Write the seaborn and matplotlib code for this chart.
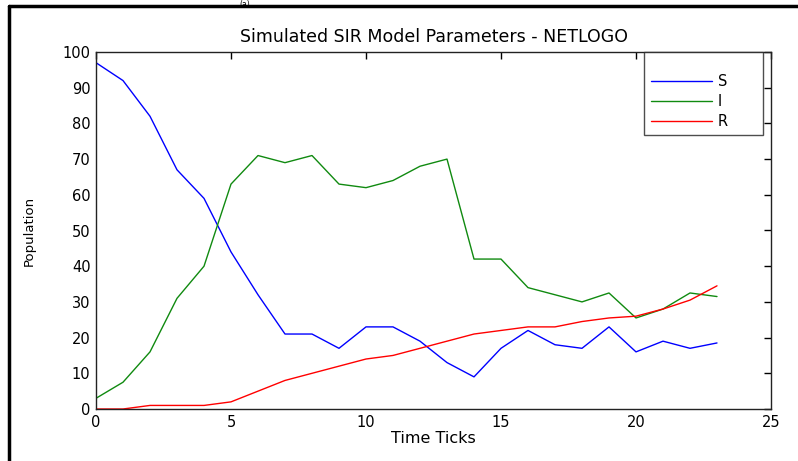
import pandas as pd
import seaborn as sns
import matplotlib.pyplot as plt
from matplotlib.lines import Line2D

# valores
ticks = list(range(24))
s_vals = [97, 92, 82, 67, 59, 44, 32, 21, 21, 17, 23, 23, 19, 13, 9, 17, 22, 18, 17, 23, 16, 19, 17, 18.5]
i_vals = [3, 7.5, 16, 31, 40, 63, 71, 69, 71, 63, 62, 64, 68, 70, 42, 42, 34, 32, 30, 32.5, 25.5, 28, 32.5, 31.5]
r_vals = [0, 0, 1, 1, 1, 2, 5, 8, 10, 12, 14, 15, 17, 19, 21, 22, 23, 23, 24.5, 25.5, 26, 28, 30.5, 34.5]
series = ['S', 'I', 'R']
cores = {'S': '#0000ff', 'I': '#108a10', 'R': '#ff0000'}

df = pd.DataFrame({
    'tick': ticks * 3,
    'valor': s_vals + i_vals + r_vals,
    'serie': ['S'] * 24 + ['I'] * 24 + ['R'] * 24,
})

sns.set_style('white')
plt.rcParams['font.family'] = ['DejaVu Sans']
plt.rcParams['text.color'] = 'black'
plt.rcParams['axes.labelcolor'] = 'black'

fig = plt.figure(figsize=(7.98, 4.61), dpi=100)
ax = fig.add_axes([96 / 798, (461 - 409) / 461, 675 / 798, 357 / 461])

sns.lineplot(data=df, x='tick', y='valor', hue='serie', hue_order=series,
             palette=cores, linewidth=1.0, ax=ax)

ax.set_xlim(0, 25)
ax.set_ylim(0, 100)
ax.set_xticks(range(0, 26, 5))
ax.set_yticks(range(0, 101, 10))
ax.tick_params(direction='in', length=5, width=1, top=True, right=True,
               labelsize=10.5, colors='black', pad=4)
for sp in ax.spines.values():
    sp.set_color('#222222')
    sp.set_linewidth(1.0)

ax.set_title('Simulated SIR Model Parameters - NETLOGO', fontsize=12.5, pad=7)
ax.set_xlabel('Time Ticks', fontsize=11.5, labelpad=1)
ax.set_ylabel('Population', fontsize=9.5, labelpad=19)

# legenda estilo matlab, com folga a direita
handles, _ = ax.get_legend_handles_labels()
leg = ax.legend(handles, [s + '      ' for s in series], title=' ', title_fontsize=8,
                loc='upper right', bbox_to_anchor=(0.988, 1.0), frameon=True,
                fancybox=False, fontsize=10.5, handlelength=4.2, borderpad=0.45,
                labelspacing=0.35, handletextpad=0.45, borderaxespad=0)
leg.get_frame().set_edgecolor('#222222')
leg.get_frame().set_linewidth(1.0)

# moldura externa e rotulo (a)
fig.add_artist(Line2D([9 / 798, 9 / 798], [0, 1 - 6 / 461], color='black', lw=2.5))
fig.add_artist(Line2D([9 / 798, 1], [1 - 6 / 461, 1 - 6 / 461], color='black', lw=2.5))
fig.text(245 / 798, 0.999, '(a)', ha='center', va='top', fontsize=5.5)

fig.savefig('out.png', dpi=100)
